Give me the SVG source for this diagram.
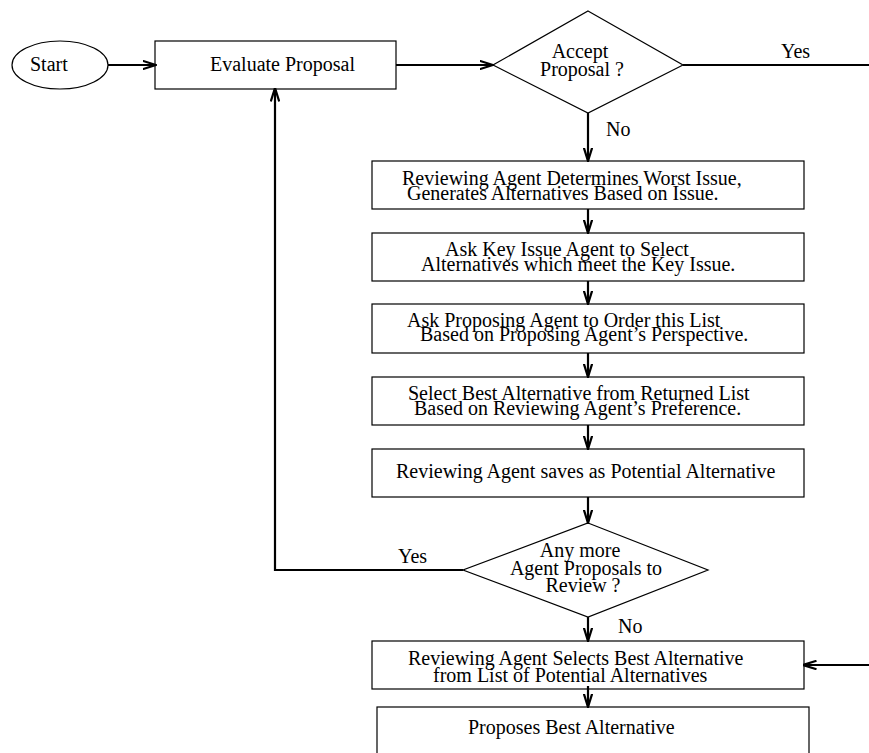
<svg xmlns="http://www.w3.org/2000/svg" width="869" height="753" viewBox="0 0 869 753">
<style>
  .box { fill: #fff; stroke: #000; stroke-width: 1.2; }
  .t { font-family: "Liberation Serif", "Times New Roman", serif; font-size: 20px; fill: #000; }
  .c { text-anchor: middle; }
  .conn { fill: none; stroke: #000; stroke-width: 2.2; }
</style>
<defs>
  <marker id="arr" viewBox="0 0 14 10" refX="13.5" refY="5" markerWidth="14" markerHeight="10" markerUnits="userSpaceOnUse" orient="auto">
    <path d="M0,0.8 L13.5,5 L0,9.2" fill="none" stroke="#000" stroke-width="2.2"/>
  </marker>
</defs>
<rect width="869" height="753" fill="#fff"/>

<g id="start">
  <ellipse class="box" cx="60" cy="65" rx="48" ry="24"/>
  <text class="t" x="30" y="71">Start</text>
</g>

<g id="evaluate">
  <rect class="box" x="155" y="41" width="241" height="48"/>
  <text class="t" x="210" y="71">Evaluate Proposal</text>
</g>

<g id="accept">
  <polygon class="box" points="588,11 683,65 588,113 493,65"/>
  <text class="t c" x="580" y="58">Accept</text>
  <text class="t c" x="582" y="76">Proposal ?</text>
</g>

<g id="box1">
  <rect class="box" x="372" y="161" width="432" height="48"/>
  <text class="t" x="402" y="185">Reviewing Agent Determines Worst Issue,</text>
  <text class="t" x="407" y="200">Generates Alternatives Based on Issue.</text>
</g>

<g id="box2">
  <rect class="box" x="372" y="233" width="432" height="48"/>
  <text class="t" x="445" y="256">Ask Key Issue Agent to Select</text>
  <text class="t" x="421" y="271">Alternatives which meet the Key Issue.</text>
</g>

<g id="box3">
  <rect class="box" x="372" y="304" width="432" height="49"/>
  <text class="t" x="407" y="327">Ask Proposing Agent to Order this List</text>
  <text class="t" x="420" y="341">Based on Proposing Agent’s Perspective.</text>
</g>

<g id="box4">
  <rect class="box" x="372" y="377" width="432" height="48"/>
  <text class="t" x="408" y="400">Select Best Alternative from Returned List</text>
  <text class="t" x="414" y="415">Based on Reviewing Agent’s Preference.</text>
</g>

<g id="box5">
  <rect class="box" x="372" y="449" width="432" height="48"/>
  <text class="t" x="396" y="478">Reviewing Agent saves as Potential Alternative</text>
</g>

<g id="more">
  <polygon class="box" points="588,523 708,570 588,617 463,570"/>
  <text class="t c" x="580" y="557">Any more</text>
  <text class="t c" x="586" y="575">Agent Proposals to</text>
  <text class="t c" x="583" y="592">Review ?</text>
</g>

<g id="box6">
  <rect class="box" x="372" y="641" width="432" height="48"/>
  <text class="t" x="408" y="665">Reviewing Agent Selects Best Alternative</text>
  <text class="t" x="433" y="682">from List of Potential Alternatives</text>
</g>

<g id="box7">
  <rect class="box" x="377" y="707" width="432" height="60"/>
  <text class="t" x="468" y="734">Proposes Best Alternative</text>
</g>

<g id="connectors">
  <line class="conn" x1="108" y1="65" x2="156" y2="65" marker-end="url(#arr)"/>
  <line class="conn" x1="396" y1="65" x2="493" y2="65" marker-end="url(#arr)"/>
  <line class="conn" x1="683" y1="65" x2="869" y2="65"/>
  <line class="conn" x1="588" y1="113" x2="588" y2="161" marker-end="url(#arr)"/>
  <line class="conn" x1="588" y1="209" x2="588" y2="233" marker-end="url(#arr)"/>
  <line class="conn" x1="588" y1="281" x2="588" y2="304" marker-end="url(#arr)"/>
  <line class="conn" x1="588" y1="353" x2="588" y2="377" marker-end="url(#arr)"/>
  <line class="conn" x1="588" y1="425" x2="588" y2="449" marker-end="url(#arr)"/>
  <line class="conn" x1="588" y1="497" x2="588" y2="523" marker-end="url(#arr)"/>
  <polyline class="conn" points="463,570 275,570 275,88" marker-end="url(#arr)"/>
  <line class="conn" x1="588" y1="617" x2="588" y2="641" marker-end="url(#arr)"/>
  <line class="conn" x1="869" y1="665" x2="803" y2="665" marker-end="url(#arr)"/>
  <line class="conn" x1="588" y1="686" x2="588" y2="707" marker-end="url(#arr)"/>
  <text class="t" x="781" y="58">Yes</text>
  <text class="t" x="606" y="136">No</text>
  <text class="t" x="398" y="563">Yes</text>
  <text class="t" x="618" y="633">No</text>
</g>
</svg>
